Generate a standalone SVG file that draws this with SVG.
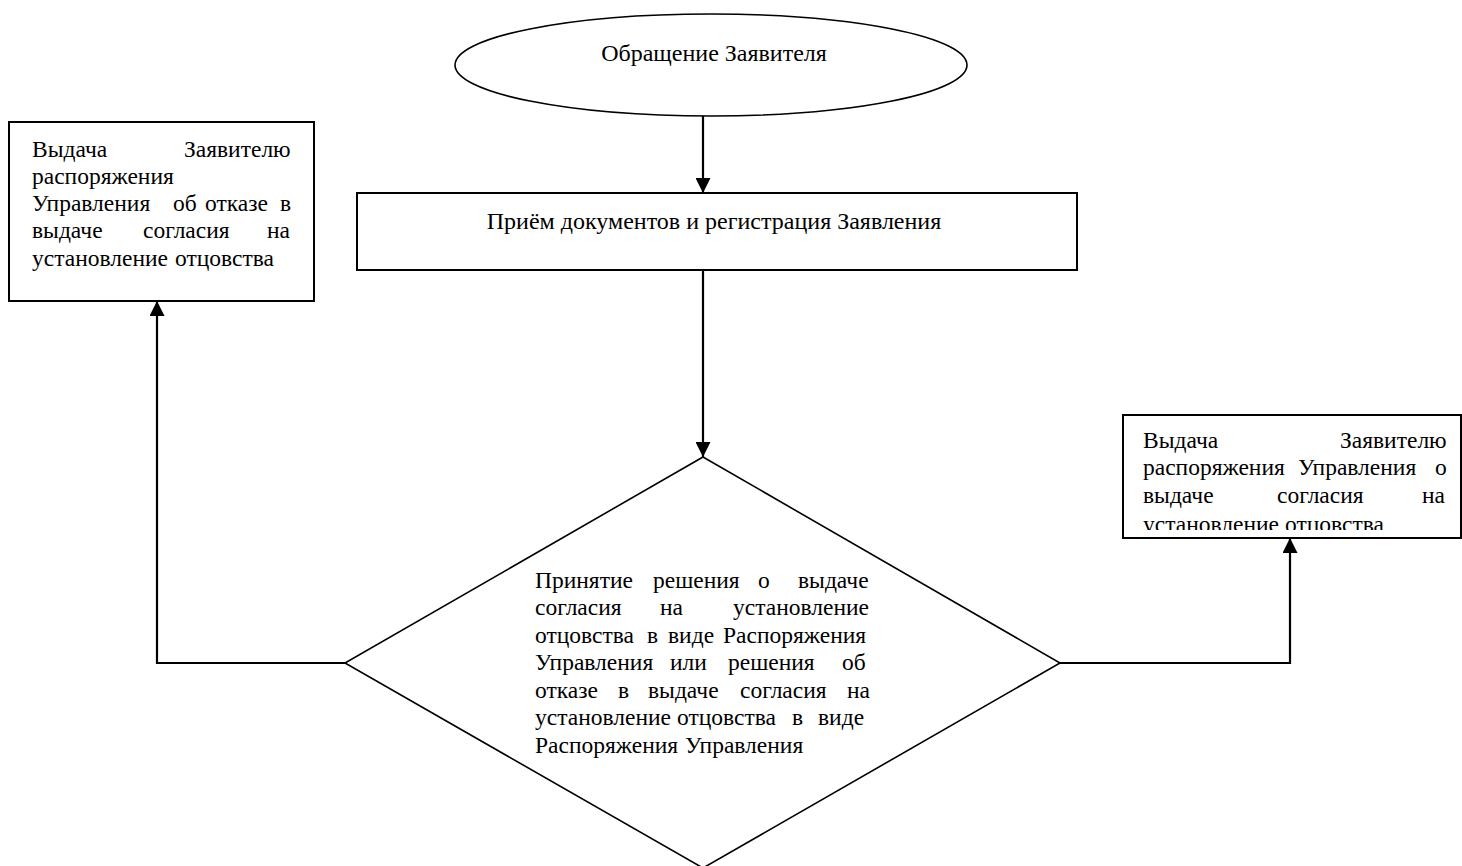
<svg xmlns="http://www.w3.org/2000/svg" width="1462" height="866" viewBox="0 0 1462 866">
<style>
  text { font-family: "Liberation Serif", "Times New Roman", serif; font-size: 23.5px; fill: #000; }
  .center { font-size: 24px; text-anchor: middle; }
  .shape { fill: #fff; stroke: #000; stroke-width: 2; }
  .thin { fill: #fff; stroke: #000; stroke-width: 1.6; }
  .conn { fill: none; stroke: #000; stroke-width: 2.2; }
</style>
<defs>
  <marker id="arrow" markerUnits="userSpaceOnUse" markerWidth="15" markerHeight="15" refX="15" refY="7.5" orient="auto">
    <path d="M0,0 L15,7.5 L0,15 Z" fill="#000"/>
  </marker>
  <clipPath id="clipRight">
    <rect x="1123" y="415" width="338" height="115"/>
  </clipPath>
</defs>
<rect width="1462" height="866" fill="#fff"/>

<g id="start">
  <ellipse class="thin" cx="711" cy="65" rx="256" ry="51"/>
  <text class="center" x="714" y="61">Обращение Заявителя</text>
</g>

<g id="reception">
  <rect class="shape" x="357" y="193" width="720" height="77"/>
  <text class="center" x="714" y="229">Приём документов и регистрация Заявления</text>
</g>

<g id="decision">
  <polygon class="thin" points="703,457 1060,663 703,868 345,663"/>
  <text>
    <tspan x="535" y="588">Принятие</tspan><tspan x="653" y="588">решения</tspan><tspan x="758" y="588">о</tspan><tspan x="798" y="588">выдаче</tspan>
    <tspan x="535" y="615">согласия</tspan><tspan x="660" y="615">на</tspan><tspan x="733" y="615">установление</tspan>
    <tspan x="535" y="643">отцовства</tspan><tspan x="647" y="643">в</tspan><tspan x="668" y="643">виде</tspan><tspan x="723" y="643">Распоряжения</tspan>
    <tspan x="535" y="670">Управления</tspan><tspan x="670" y="670">или</tspan><tspan x="728" y="670">решения</tspan><tspan x="842" y="670">об</tspan>
    <tspan x="535" y="698">отказе</tspan><tspan x="618" y="698">в</tspan><tspan x="648" y="698">выдаче</tspan><tspan x="740" y="698">согласия</tspan><tspan x="847" y="698">на</tspan>
    <tspan x="535" y="725">установление</tspan><tspan x="677" y="725">отцовства</tspan><tspan x="792" y="725">в</tspan><tspan x="818" y="725">виде</tspan>
    <tspan x="535" y="753">Распоряжения</tspan><tspan x="685" y="753">Управления</tspan>
  </text>
</g>

<g id="refusal">
  <rect class="shape" x="9" y="122" width="305" height="179"/>
  <text>
    <tspan x="32" y="157">Выдача</tspan><tspan x="184" y="157">Заявителю</tspan>
    <tspan x="32" y="184">распоряжения</tspan>
    <tspan x="32" y="211">Управления</tspan><tspan x="173" y="211">об</tspan><tspan x="205" y="211">отказе</tspan><tspan x="280" y="211">в</tspan>
    <tspan x="32" y="238">выдаче</tspan><tspan x="143" y="238">согласия</tspan><tspan x="267" y="238">на</tspan>
    <tspan x="32" y="266">установление</tspan><tspan x="175" y="266">отцовства</tspan>
  </text>
</g>

<g id="consent">
  <rect class="shape" x="1123" y="415" width="338" height="123"/>
  <text clip-path="url(#clipRight)">
    <tspan x="1143" y="448">Выдача</tspan><tspan x="1340" y="448">Заявителю</tspan>
    <tspan x="1143" y="475">распоряжения</tspan><tspan x="1298" y="475">Управления</tspan><tspan x="1435" y="475">о</tspan>
    <tspan x="1143" y="503">выдаче</tspan><tspan x="1277" y="503">согласия</tspan><tspan x="1422" y="503">на</tspan>
    <tspan x="1143" y="532">установление</tspan><tspan x="1285" y="532">отцовства</tspan>
  </text>
</g>

<g id="connectors">
  <path class="conn" d="M703,116 L703,193" marker-end="url(#arrow)"/>
  <path class="conn" d="M703,270 L703,457" marker-end="url(#arrow)"/>
  <path class="conn" d="M345,663 L157,663 L157,301" marker-end="url(#arrow)"/>
  <path class="conn" d="M1060,663 L1290,663 L1290,538" marker-end="url(#arrow)"/>
</g>
</svg>
